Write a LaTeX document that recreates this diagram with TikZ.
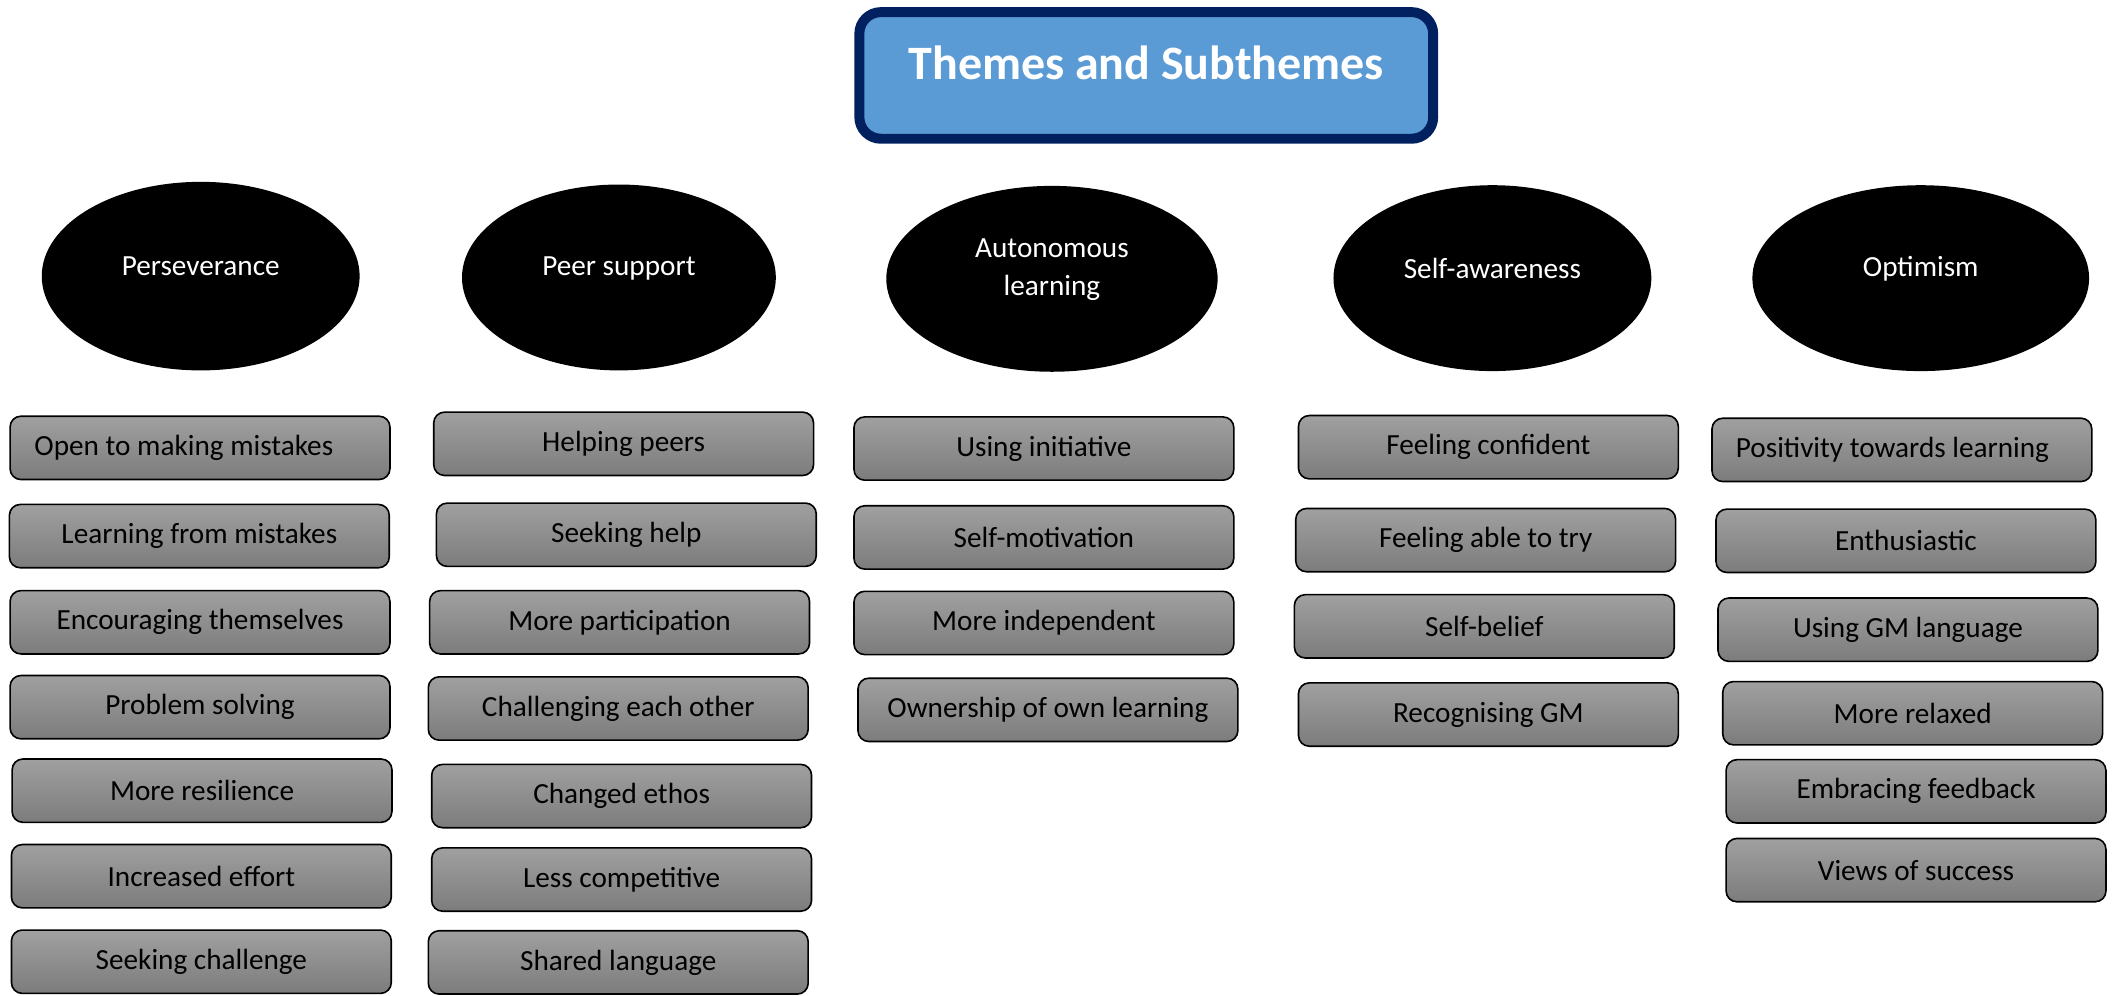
\documentclass[tikz,border=0pt]{standalone}
\usepackage{fontspec}
\setmainfont{Carlito}
\usetikzlibrary{shapes.geometric}
\definecolor{titlefill}{RGB}{91,155,213}
\definecolor{titleline}{RGB}{0,32,96}
\definecolor{boxtop}{RGB}{160,160,160}
\definecolor{boxbottom}{RGB}{124,124,124}
\tikzset{
  titlebox/.style={draw=titleline, fill=titlefill, line width=3.7pt, rounded corners=8pt,
    minimum width=213pt, minimum height=47pt},
  titletext/.style={text=white, font=\bfseries\fontsize{17.8}{20}\selectfont, yshift=4.5pt},
  theme/.style={ellipse, fill=black, minimum width=118pt, minimum height=69pt},
  themetext/.style={text=white, align=center, font=\fontsize{10.85}{14}\selectfont, yshift=3.5pt},
  subtheme/.style={draw=black, line width=0.6pt, rounded corners=4pt, top color=boxtop,
    bottom color=boxbottom, minimum width=141pt, minimum height=23.5pt,
    font=\fontsize{10.85}{13}\selectfont}
}
\begin{document}
\begin{tikzpicture}[x=0.5pt, y=-0.5pt]
  \useasboundingbox (0,0) rectangle (1568,739);
  % title
  \node[titlebox, label={[titletext]center:Themes and Subthemes}] (title) at (851,56) {};
  % themes
  \node[theme, minimum height=70pt, label={[themetext]center:Perseverance}] (persev) at (149,205) {};
  \node[theme, minimum width=116.5pt, label={[themetext]center:Peer support}] (peer) at (459.5,206) {};
  \node[theme, minimum width=123pt, label={[themetext]center:Autonomous\\learning}] (auton) at (781,207) {};
  \node[theme, label={[themetext]center:Self-awareness}] (selfaw) at (1108,206.5) {};
  \node[theme, minimum width=125pt, label={[themetext]center:Optimism}] (optim) at (1426,206.5) {};
  % perseverance
  \node[subtheme] (p1) at (148.5,332.5) {\hspace*{-12pt}Open to making mistakes};
  \node[subtheme] (p2) at (148,398)     {Learning from mistakes};
  \node[subtheme] (p3) at (148.5,462)   {Encouraging themselves};
  \node[subtheme] (p4) at (148.5,525)   {Problem solving};
  \node[subtheme] (p5) at (150,587)     {More resilience};
  \node[subtheme] (p6) at (149.5,650.5) {Increased effort};
  \node[subtheme] (p7) at (149.5,714)   {Seeking challenge};
  % peer support
  \node[subtheme] (s1) at (463,329.5)   {Helping peers};
  \node[subtheme] (s2) at (465,397)     {Seeking help};
  \node[subtheme] (s3) at (460,462)     {More participation};
  \node[subtheme] (s4) at (459,526)     {Challenging each other};
  \node[subtheme] (s5) at (461.5,591)   {Changed ethos};
  \node[subtheme] (s6) at (461.5,653)   {Less competitive};
  \node[subtheme] (s7) at (459,714.5)   {Shared language};
  % autonomous learning
  \node[subtheme] (a1) at (775,333)     {Using initiative};
  \node[subtheme] (a2) at (775,399)     {Self-motivation};
  \node[subtheme] (a3) at (775,462.5)   {More independent};
  \node[subtheme] (a4) at (778,527)     {Ownership of own learning};
  % self-awareness
  \node[subtheme] (w1) at (1105,332)    {Feeling confident};
  \node[subtheme] (w2) at (1103,401)    {Feeling able to try};
  \node[subtheme] (w3) at (1102,465)    {Self-belief};
  \node[subtheme] (w4) at (1105,530.5)  {Recognising GM};
  % optimism
  \node[subtheme] (o1) at (1412,334)    {\hspace*{-7pt}Positivity towards learning};
  \node[subtheme] (o2) at (1415,401.5)  {Enthusiastic};
  \node[subtheme] (o3) at (1416.5,467.5) {Using GM language};
  \node[subtheme] (o4) at (1420,529.5)  {More relaxed};
  \node[subtheme] (o5) at (1422.5,587.5) {Embracing feedback};
  \node[subtheme] (o6) at (1422.5,646)  {Views of success};
\end{tikzpicture}
\end{document}
